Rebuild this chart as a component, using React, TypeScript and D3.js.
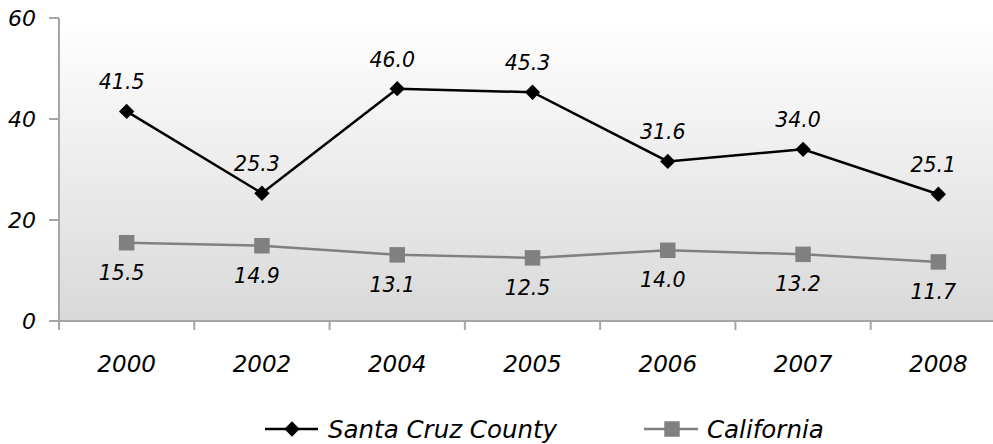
import React from "react";
import * as d3 from "d3";

const categories = ["2000", "2002", "2004", "2005", "2006", "2007", "2008"];
const santaCruz = [41.5, 25.3, 46.0, 45.3, 31.6, 34.0, 25.1];
const california = [15.5, 14.9, 13.1, 12.5, 14.0, 13.2, 11.7];
const yTicks = [0, 20, 40, 60];
const seriesNames = ["Santa Cruz County", "California"];

const W = 993;
const H = 444;
const FONT = "'DejaVu Sans', sans-serif";

export default function App() {
  const x = d3.scaleBand<string>().domain(categories).range([59, 1006]).padding(0);
  const y = d3.scaleLinear().domain([0, 60]).range([321, 18]);
  const cx = (c: string) => (x(c) as number) + x.bandwidth() / 2;

  const line = d3
    .line<number>()
    .x((_, i) => cx(categories[i]))
    .y((d) => y(d));

  const diamond = d3.symbol().type(d3.symbolDiamond2).size(150)();
  const square = d3.symbol().type(d3.symbolSquare).size(240)();

  const axisColor = "#a6a6a6";
  const boundaries = d3.range(categories.length + 1).map((i) => 59 + i * x.bandwidth());

  return (
    <svg
      width={W}
      height={H}
      style={{ position: "absolute", left: 0, top: 0, background: "#fff" }}
      fontFamily={FONT}
      fontStyle="italic"
    >
      <defs>
        <linearGradient id="bg" x1="0" y1="0" x2="0" y2="1">
          <stop offset="0" stopColor="#ffffff" />
          <stop offset="0.05" stopColor="#fdfdfd" />
          <stop offset="1" stopColor="#d9d9d9" />
        </linearGradient>
      </defs>
      <rect x={59} y={y(60)} width={W - 59} height={y(0) - y(60)} fill="url(#bg)" />

      {/* y axis */}
      <line x1={59} x2={59} y1={y(60)} y2={y(0)} stroke={axisColor} strokeWidth={2} />
      {yTicks.map((t) => (
        <g key={t}>
          <line x1={49} x2={59} y1={y(t)} y2={y(t)} stroke={axisColor} strokeWidth={2} />
          <text x={36} y={y(t)} dy="0.36em" textAnchor="end" fontSize={22} fill="#000">
            {t}
          </text>
        </g>
      ))}

      {/* x axis */}
      <line x1={59} x2={W} y1={y(0)} y2={y(0)} stroke={axisColor} strokeWidth={2} />
      {boundaries.map((b, i) => (
        <line key={i} x1={b} x2={b} y1={y(0)} y2={y(0) + 9} stroke={axisColor} strokeWidth={2} />
      ))}
      {categories.map((c) => (
        <text key={c} x={cx(c)} y={372} textAnchor="middle" fontSize={23} fill="#000">
          {c}
        </text>
      ))}

      {/* California */}
      <path d={line(california) as string} fill="none" stroke="#808080" strokeWidth={2.5} />
      {california.map((v, i) => (
        <path key={i} d={square as string} transform={`translate(${cx(categories[i])},${y(v)})`} fill="#808080" />
      ))}
      {california.map((v, i) => (
        <text key={i} x={cx(categories[i]) - 5} y={y(v) + 37} textAnchor="middle" fontSize={20.5} fill="#000">
          {v.toFixed(1)}
        </text>
      ))}

      {/* Santa Cruz */}
      <path d={line(santaCruz) as string} fill="none" stroke="#000" strokeWidth={2.5} />
      {santaCruz.map((v, i) => (
        <path key={i} d={diamond as string} transform={`translate(${cx(categories[i])},${y(v)})`} fill="#000" />
      ))}
      {santaCruz.map((v, i) => (
        <text key={i} x={cx(categories[i]) - 5} y={y(v) - 22} textAnchor="middle" fontSize={20.5} fill="#000">
          {v.toFixed(1)}
        </text>
      ))}

      {/* legend */}
      <g>
        <line x1={265} x2={318} y1={429} y2={429} stroke="#000" strokeWidth={2.5} />
        <path d={diamond as string} transform="translate(292,429)" fill="#000" />
        <text x={328} y={438} fontSize={24.5} fill="#000">
          {seriesNames[0]}
        </text>
        <line x1={644} x2={698} y1={429} y2={429} stroke="#808080" strokeWidth={2.5} />
        <path d={square as string} transform="translate(672,429)" fill="#808080" />
        <text x={707} y={438} fontSize={24.5} fill="#000">
          {seriesNames[1]}
        </text>
      </g>
    </svg>
  );
}
